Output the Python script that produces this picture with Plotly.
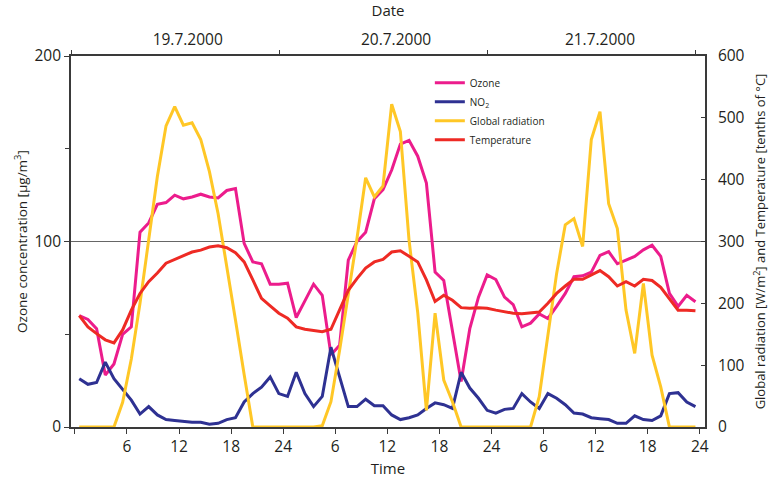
import numpy as np
import plotly.graph_objects as go

# Hourly means over three days (hour mid-points 0.5 ... 71.5)
hours = np.arange(72) + 0.5

ozone = [60, 58, 53, 28, 34, 50, 54, 105, 110, 120, 121, 125, 123, 124, 125.5, 124, 123.5, 127.5,
         128.5, 99, 89, 88, 77, 77, 77.5, 59, 68, 77, 71, 39, 44, 90, 100, 105, 123, 128,
         138.5, 152.5, 154.5, 146, 131.5, 83.5, 79, 52, 24.5, 53, 70, 82, 79.5, 70, 66, 54,
         56, 61, 58.5, 65, 72, 81, 81.5, 83.5, 92.5, 94.5, 88, 90, 92, 95.5, 98, 92, 72, 65, 71, 67.5]

no2 = [26, 23, 24, 35, 26, 20, 14.5, 7, 11, 6.5, 4, 3.5, 3, 2.5, 2.5, 1.5, 2, 4, 5, 13.5,
       18, 21.5, 27, 18, 16.5, 29.5, 18, 11, 16.5, 43, 27, 11, 11, 15, 11.5, 11.5, 6.5, 4,
       5, 6.5, 10, 13, 12, 10, 29.5, 21, 15.5, 9, 7.5, 9.5, 10, 18, 13.5, 10, 18, 15.5, 12,
       7.5, 7, 5, 4.5, 4, 2, 2, 6, 4, 3.5, 6, 18, 18.5, 13.5, 11]

radiation = [0, 0, 0, 0, 0, 40, 110, 200, 300, 405, 487, 518, 488, 492, 465, 413, 345, 262,
             173, 85, 0, 0, 0, 0, 0, 0, 0, 0, 2, 41, 124, 213, 305, 403, 372, 390, 522, 478,
             302, 185, 27, 184, 76, 41, 0, 0, 0, 0, 0, 0, 0, 0, 0, 49, 146, 248, 327, 337, 292,
             465, 510, 361, 321, 189, 119, 232, 116, 65, 0, 0, 0, 0]

temperature = [180, 162, 151, 141, 136, 157, 189, 216, 235, 249, 265, 271, 278, 283, 286, 291,
               293, 290, 282, 267, 238, 208, 196, 184, 176, 162, 158, 156, 154, 158, 189, 221,
               240, 257, 267, 271, 283, 285, 276, 267, 238, 203, 213, 205, 193, 192, 193, 192,
               189, 186, 184, 183, 184, 186, 200, 216, 228, 239, 239, 246, 253, 243, 228, 235,
               228, 239, 237, 226, 208, 189, 189, 188]

hour_ticks = [0, 6, 12, 18, 24, 30, 36, 42, 48, 54, 60, 66, 72]
hour_labels = ["", "6", "12", "18", "24", "6", "12", "18", "24", "6", "12", "18", "24"]
date_ticks = [13, 37, 60.5]
date_labels = ["19.7.2000", "20.7.2000", "21.7.2000"]

FONT = "Open Sans"
INK = "#231f20"
AXIS = "#3a3a3a"

fig = go.Figure()
fig.add_trace(go.Scatter(x=hours, y=ozone, name="Ozone", mode="lines",
                         line=dict(color="#ec1c8c", width=3)))
fig.add_trace(go.Scatter(x=hours, y=no2, name="NO<sub>2</sub>", mode="lines",
                         line=dict(color="#2e3192", width=3)))
fig.add_trace(go.Scatter(x=hours, y=radiation, name="Global radiation", mode="lines",
                         yaxis="y2", line=dict(color="#ffc726", width=3)))
fig.add_trace(go.Scatter(x=hours, y=temperature, name="Temperature", mode="lines",
                         yaxis="y2", line=dict(color="#ee2a24", width=3)))
# empty trace that carries the top date axis
fig.add_trace(go.Scatter(x=date_ticks, y=[None] * len(date_ticks), xaxis="x2",
                         mode="lines", showlegend=False, hoverinfo="skip"))

xr = [-0.45, 72.6]
fig.update_layout(
    width=769, height=478,
    margin=dict(l=71, r=64, t=56, b=51, autoexpand=False),
    paper_bgcolor="white", plot_bgcolor="white",
    font=dict(family=FONT, color=INK, size=15),
    showlegend=True,
    legend=dict(x=0.566, y=0.967, xanchor="left", yanchor="top",
                bgcolor="rgba(0,0,0,0)", font=dict(size=10, color=INK),
                itemwidth=30, tracegroupgap=0),
    xaxis=dict(range=xr, tickmode="array", tickvals=hour_ticks, ticktext=hour_labels,
               ticks="outside", ticklen=5, tickwidth=1.2, tickcolor=AXIS,
               showline=True, linecolor=AXIS, linewidth=1.6, showgrid=False, zeroline=False,
               tickfont=dict(size=15.5), automargin=False,
               title=dict(text="Time", font=dict(size=15))),
    xaxis2=dict(range=xr, overlaying="x", side="top", anchor="y",
                tickmode="array", tickvals=date_ticks, ticktext=date_labels, ticks="",
                ticklabelstandoff=3,
                minor=dict(ticks="outside", tick0=-0.45, dtick=24, ticklen=4,
                           tickcolor=AXIS, tickwidth=1.2, showgrid=False),
                showline=True, linecolor=AXIS, linewidth=1.6, showgrid=False, zeroline=False,
                tickfont=dict(size=15.5), automargin=False,
                title=dict(text="Date", font=dict(size=15))),
    yaxis=dict(range=[0, 200], tickmode="array", tickvals=[0, 100, 200],
               ticks="outside", ticklen=5, tickwidth=1.2, tickcolor=AXIS,
               minor=dict(tickvals=[50, 150], ticks="outside", ticklen=4,
                          tickcolor=AXIS, tickwidth=1.2, showgrid=False),
               showline=True, linecolor=AXIS, linewidth=1.6,
               showgrid=True, gridcolor="#666666", gridwidth=1, zeroline=False,
               tickfont=dict(size=15.5), automargin=False,
               title=dict(text="Ozone concentration [μg/m<sup>3</sup>]",
                          font=dict(size=13.5), standoff=4)),
    yaxis2=dict(range=[0, 600], overlaying="y", side="right", anchor="x",
                tickmode="array", tickvals=[0, 100, 200, 300, 400, 500, 600],
                ticks="inside", ticklen=4, tickwidth=1.2, tickcolor=AXIS,
                ticklabelstandoff=8,
                showline=True, linecolor=AXIS, linewidth=1.6, showgrid=False, zeroline=False,
                tickfont=dict(size=15.5), automargin=False,
                title=dict(text="Global radiation [W/m<sup>2</sup>] and Temperature [tenths of °C]",
                           font=dict(size=13))),
)

fig.write_html("out.html")
